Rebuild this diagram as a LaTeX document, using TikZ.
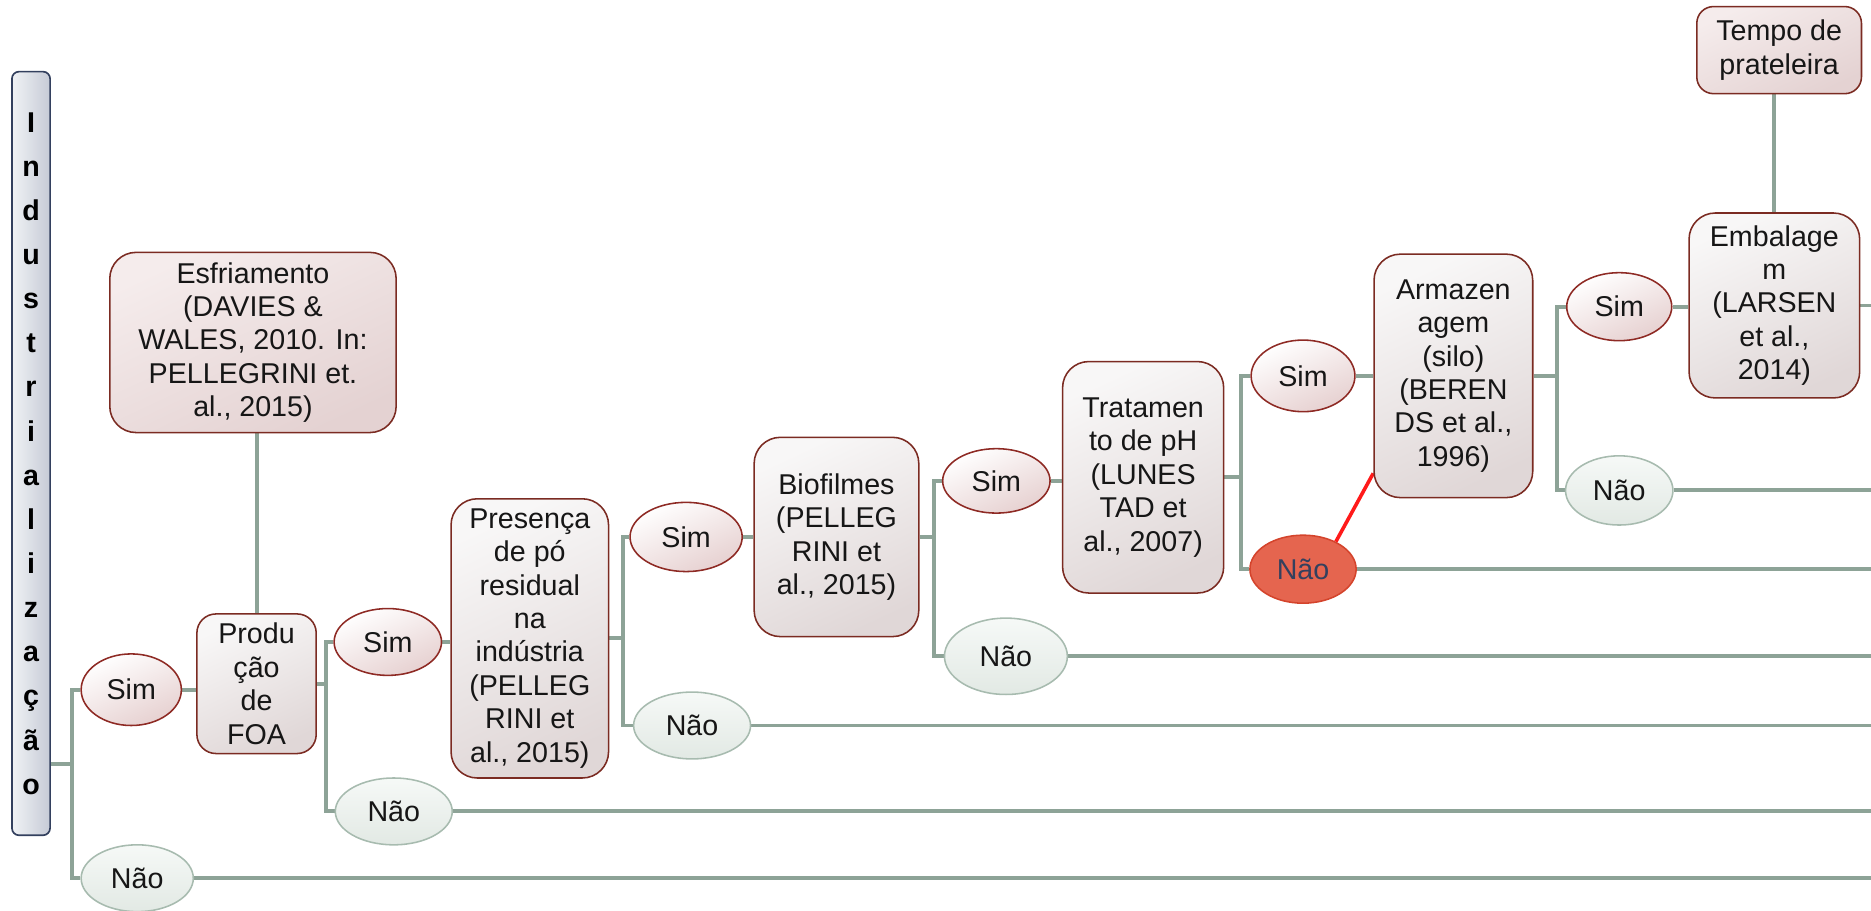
\documentclass[tikz,border=0pt]{standalone}
\usepackage{fontspec}
\setmainfont{Liberation Sans}
\usetikzlibrary{shapes.geometric,backgrounds}

\definecolor{txtc}{HTML}{161616}
\definecolor{linkc}{HTML}{8DA397}
\definecolor{boxline}{HTML}{7B2B22}
\definecolor{boxtop}{HTML}{F8F7F7}
\definecolor{boxbot}{HTML}{E0D7D7}
\definecolor{notetop}{HTML}{F5ECEC}
\definecolor{notebot}{HTML}{E4D2D2}
\definecolor{simline}{HTML}{8E2A24}
\definecolor{simbot}{HTML}{E6D0D0}
\definecolor{naoline}{HTML}{A7BBAF}
\definecolor{naotop}{HTML}{F6F9F7}
\definecolor{naobot}{HTML}{E2E9E4}
\definecolor{hotfill}{HTML}{E5654F}
\definecolor{hotline}{HTML}{D4442C}
\definecolor{hotlink}{HTML}{FF1A1A}
\definecolor{indline}{HTML}{33405E}
\definecolor{indtop}{HTML}{F0F2F5}
\definecolor{indbot}{HTML}{C6CBD6}

\tikzset{
  txt/.style={font=\fontsize{24}{28}\selectfont, text=txtc, align=center},
  stepbox/.style={txt, draw=boxline, line width=1.3pt, rounded corners=22pt,
    top color=boxtop, bottom color=boxbot, shading angle=25, inner sep=0pt},
  notebox/.style={stepbox, top color=notetop, bottom color=notebot, shading angle=25},
  yes/.style={txt, ellipse, draw=simline, line width=1.3pt,
    top color=white, bottom color=simbot, shading angle=25, inner sep=0pt},
  no/.style={txt, ellipse, draw=naoline, line width=1.3pt,
    top color=naotop, bottom color=naobot, inner sep=0pt},
  hot/.style={txt, ellipse, draw=hotline, line width=1.3pt, fill=hotfill,
    text=indline, inner sep=0pt},
  link/.style={draw=linkc, line width=3.3pt},
  hotlinkstyle/.style={draw=hotlink, line width=3pt},
}

\begin{document}
\begin{tikzpicture}[x=1pt, y=1pt]
\useasboundingbox (0,0) rectangle (1568,-763);
\coordinate (edge) at (1568,0);

% vertical title bar
\node[draw=indline, line width=1.4pt, rounded corners=6pt,
      left color=indtop, right color=indbot, inner sep=0pt,
      minimum width=32pt, minimum height=640pt, text=black,
      align=center, font=\fontsize{24}{37}\selectfont\bfseries]
  (ind) at (26,-380)
  {I\\n\\d\\u\\s\\t\\r\\i\\a\\l\\i\\z\\a\\ç\\ã\\o};

% process boxes
\node[notebox, minimum width=240pt, minimum height=151pt] (esf) at (212,-287)
  {Esfriamento\\(DAVIES \&\\WALES, 2010. In:\\PELLEGRINI et.\\al., 2015)};
\node[stepbox, rounded corners=16pt, minimum width=100pt, minimum height=117pt] (prod) at (215,-573)
  {Produ\\ção\\de\\FOA};
\node[stepbox, minimum width=132pt, minimum height=234pt] (pres) at (444,-535)
  {Presença\\de pó\\residual\\na\\indústria\\(PELLEG\\RINI et\\al., 2015)};
\node[stepbox, minimum width=138pt, minimum height=167pt] (bio) at (701,-450)
  {Biofilmes\\(PELLEG\\RINI et\\al., 2015)};
\node[stepbox, minimum width=135pt, minimum height=194pt] (trat) at (958,-400)
  {Tratamen\\to de pH\\(LUNES\\TAD et\\al., 2007)};
\node[stepbox, minimum width=133pt, minimum height=204pt] (arm) at (1218,-315)
  {Armazen\\agem\\(silo)\\(BEREN\\DS et al.,\\1996)};
\node[stepbox, minimum width=143pt, minimum height=155pt] (emb) at (1487,-256)
  {Embalage\\m\\(LARSEN\\et al.,\\2014)};
\node[notebox, rounded corners=14pt, minimum width=138pt, minimum height=73pt] (tempo) at (1491,-42)
  {Tempo de\\prateleira};

% decision ellipses
\node[yes, minimum width=84pt, minimum height=60pt] (sim1) at (110,-578) {Sim};
\node[no,  minimum width=94pt, minimum height=56pt] (nao1) at (115,-736) {Não};
\node[yes, minimum width=90pt, minimum height=56pt] (sim2) at (325,-538) {Sim};
\node[no,  minimum width=98pt, minimum height=56pt] (nao2) at (330,-680) {Não};
\node[yes, minimum width=94pt, minimum height=58pt] (sim3) at (575,-450) {Sim};
\node[no,  minimum width=98pt, minimum height=56pt] (nao3) at (580,-608) {Não};
\node[yes, minimum width=90pt, minimum height=54pt] (sim4) at (835,-403) {Sim};
\node[no,  minimum width=103pt, minimum height=64pt] (nao4) at (843,-550) {Não};
\node[yes, minimum width=87pt, minimum height=60pt] (sim5) at (1092,-315) {Sim};
\node[hot, minimum width=89pt, minimum height=57pt] (nao5) at (1092,-477) {Não};
\node[yes, minimum width=88pt, minimum height=57pt] (sim6) at (1357,-257) {Sim};
\node[no,  minimum width=90pt, minimum height=58pt] (nao6) at (1357,-411) {Não};

% branch junctions
\coordinate (j0) at (60,-640);
\coordinate (j1) at (273,-573);
\coordinate (j2) at (522,-535);
\coordinate (j3) at (783,-450);
\coordinate (j4) at (1040,-400);
\coordinate (j5) at (1305,-315);

\begin{scope}[on background layer]
  % level 0
  \draw[link] (ind.east |- j0) -- (j0);
  \draw[link] (sim1.west) -| (j0) |- (nao1.west);
  \draw[link] (sim1.east) -- (sim1.east -| prod.west);
  \draw[link] (nao1.east) -- (nao1.east -| edge);
  \draw[link] (prod.north) -- (prod.north |- esf.south);
  % level 1
  \draw[link] (prod.east |- j1) -- (j1);
  \draw[link] (sim2.west) -| (j1) |- (nao2.west);
  \draw[link] (sim2.east) -- (sim2.east -| pres.west);
  \draw[link] (nao2.east) -- (nao2.east -| edge);
  % level 2
  \draw[link] (pres.east |- j2) -- (j2);
  \draw[link] (sim3.west) -| (j2) |- (nao3.west);
  \draw[link] (sim3.east) -- (sim3.east -| bio.west);
  \draw[link] (nao3.east) -- (nao3.east -| edge);
  % level 3
  \draw[link] (bio.east |- j3) -- (j3);
  \draw[link] (sim4.west) -| (j3) |- (nao4.west);
  \draw[link] (sim4.east) -- (sim4.east -| trat.west);
  \draw[link] (nao4.east) -- (nao4.east -| edge);
  % level 4
  \draw[link] (trat.east |- j4) -- (j4);
  \draw[link] (sim5.west) -| (j4) |- (nao5.west);
  \draw[link] (sim5.east) -- (sim5.east -| arm.west);
  \draw[link] (nao5.east) -- (nao5.east -| edge);
  \draw[hotlinkstyle] (nao5.40) -- ([yshift=21pt]arm.south west);
  % level 5
  \draw[link] (arm.east |- j5) -- (j5);
  \draw[link] (sim6.west) -| (j5) |- (nao6.west);
  \draw[link] (sim6.east) -- (sim6.east -| emb.west);
  \draw[link] (nao6.east) -- (nao6.east -| edge);
  \draw[link] (emb.north) -- (emb.north |- tempo.south);
  \draw[link] (emb.east) -- (emb.east -| edge);
\end{scope}
\end{tikzpicture}
\end{document}
